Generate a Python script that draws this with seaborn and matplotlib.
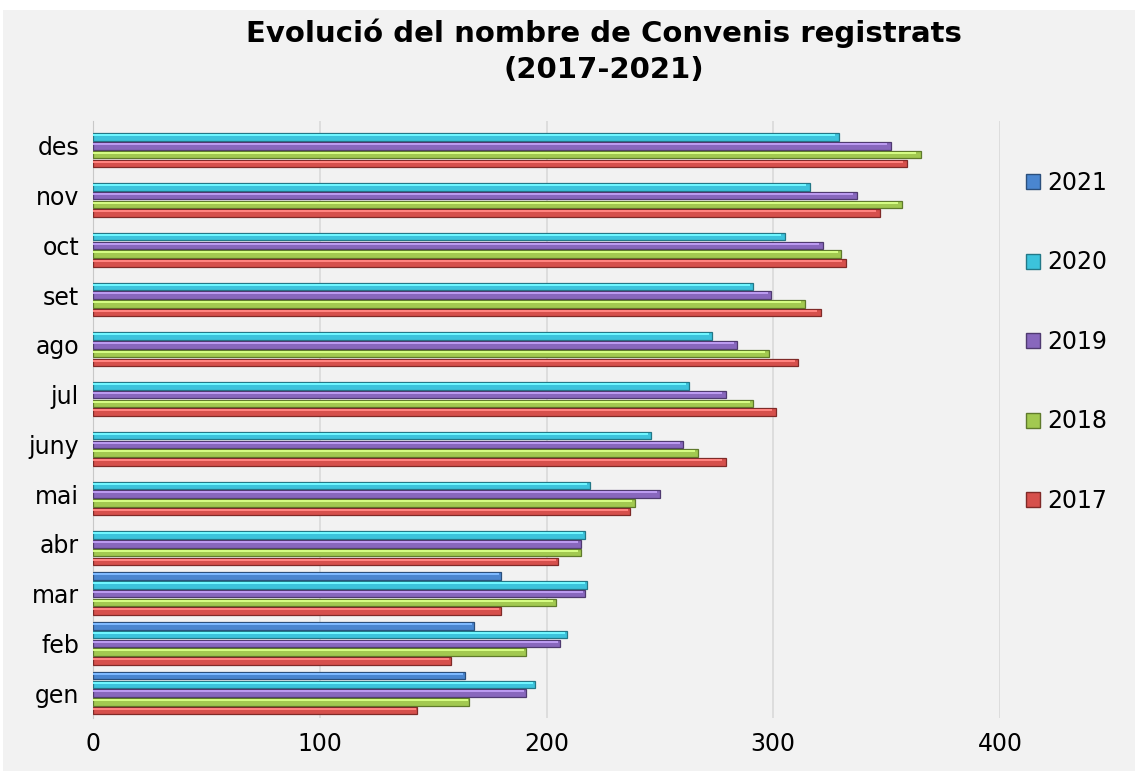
import numpy as np
import pandas as pd
import matplotlib
matplotlib.use("Agg")
import matplotlib.pyplot as plt
import matplotlib.patches as mpatches
import matplotlib.colors as mcolors
import seaborn as sns

# data
months = ["des", "nov", "oct", "set", "ago", "jul", "juny", "mai", "abr", "mar", "feb", "gen"]
years = ["2021", "2020", "2019", "2018", "2017"]

v2017 = [359, 347, 332, 321, 311, 301, 279, 237, 205, 180, 158, 143]
v2018 = [365, 357, 330, 314, 298, 291, 267, 239, 215, 204, 191, 166]
v2019 = [352, 337, 322, 299, 284, 279, 260, 250, 215, 217, 206, 191]
v2020 = [329, 316, 305, 291, 273, 263, 246, 219, 217, 218, 209, 195]
v2021 = [np.nan] * 9 + [180, 168, 164]

colors = {"2021": "#4a86d0", "2020": "#3cc3dc", "2019": "#8867bd",
          "2018": "#a2c950", "2017": "#d6504c"}
edges = {"2021": "#2b4f7c", "2020": "#237887", "2019": "#4f3a70",
         "2018": "#5f7a2c", "2017": "#7f2a28"}

series = {"2021": v2021, "2020": v2020, "2019": v2019, "2018": v2018, "2017": v2017}
rows = []
for y in years:
    for m, v in zip(months, series[y]):
        rows.append({"mes": m, "any": y, "valor": v})
df = pd.DataFrame(rows)

sns.set_style("white")
plt.rcParams["font.family"] = ["DejaVu Sans"]
plt.rcParams["text.color"] = "black"

fig = plt.figure(figsize=(11.35, 7.71), dpi=100, facecolor="white")
fig.patches.append(mpatches.Rectangle((3 / 1135, 0), 1, 1 - 10 / 771,
                                      transform=fig.transFigure,
                                      facecolor="#f2f2f2", edgecolor="none", zorder=-10))
ax = fig.add_axes([93 / 1135, 1 - 718 / 771, (1000 - 93) / 1135, (718 - 121) / 771])
ax.set_facecolor("#f2f2f2")

sns.barplot(data=df, y="mes", x="valor", hue="any", order=months, hue_order=years,
            palette=colors, orient="h", width=0.88, gap=0.12, ax=ax, saturation=1,
            linewidth=0.9, edgecolor="none", zorder=3)

# darker edge + light top strip per bar, like the bevelled bars
for cont, y in zip(ax.containers, years):
    light = mcolors.to_rgb(colors[y])
    light = tuple(min(1, c + 0.2) for c in light)
    for bar in cont:
        bar.set_edgecolor(edges[y])
        w = bar.get_width()
        if np.isnan(w) or w == 0:
            continue
        hl = mpatches.Rectangle((bar.get_x(), bar.get_y() + bar.get_height() * 0.15),
                                w * 0.995, bar.get_height() * 0.25,
                                facecolor=light, edgecolor="none", zorder=4)
        ax.add_patch(hl)

ax.set_xlim(0, 400)
ax.set_xticks([0, 100, 200, 300, 400])
ax.xaxis.grid(True, color="#d9d9d9", linewidth=1.2, zorder=0)
ax.set_axisbelow(True)
for s in ["top", "right", "bottom"]:
    ax.spines[s].set_visible(False)
ax.spines["left"].set_color("#c8c8c8")
ax.tick_params(axis="both", length=0, labelsize=17, colors="black")
ax.tick_params(axis="x", pad=10)
ax.tick_params(axis="y", pad=10)
ax.set_xlabel("")
ax.set_ylabel("")

fig.text(0.532, 1 - 19 / 771, "Evolució del nombre de Convenis registrats\n(2017-2021)",
         fontsize=21, fontweight="bold", color="black", ha="center", va="top",
         linespacing=1.35)

handles = [mpatches.Patch(facecolor=colors[y], edgecolor=edges[y]) for y in years]
ax.get_legend().remove()
leg = ax.legend(handles, years, loc="center left", bbox_to_anchor=(1.005, 0.63),
                frameon=False, fontsize=17, labelspacing=2.35, handlelength=0.6,
                handleheight=0.6, handletextpad=0.3)
for t in leg.get_texts():
    t.set_color("black")

fig.savefig("out.png", dpi=100, facecolor=fig.get_facecolor())
